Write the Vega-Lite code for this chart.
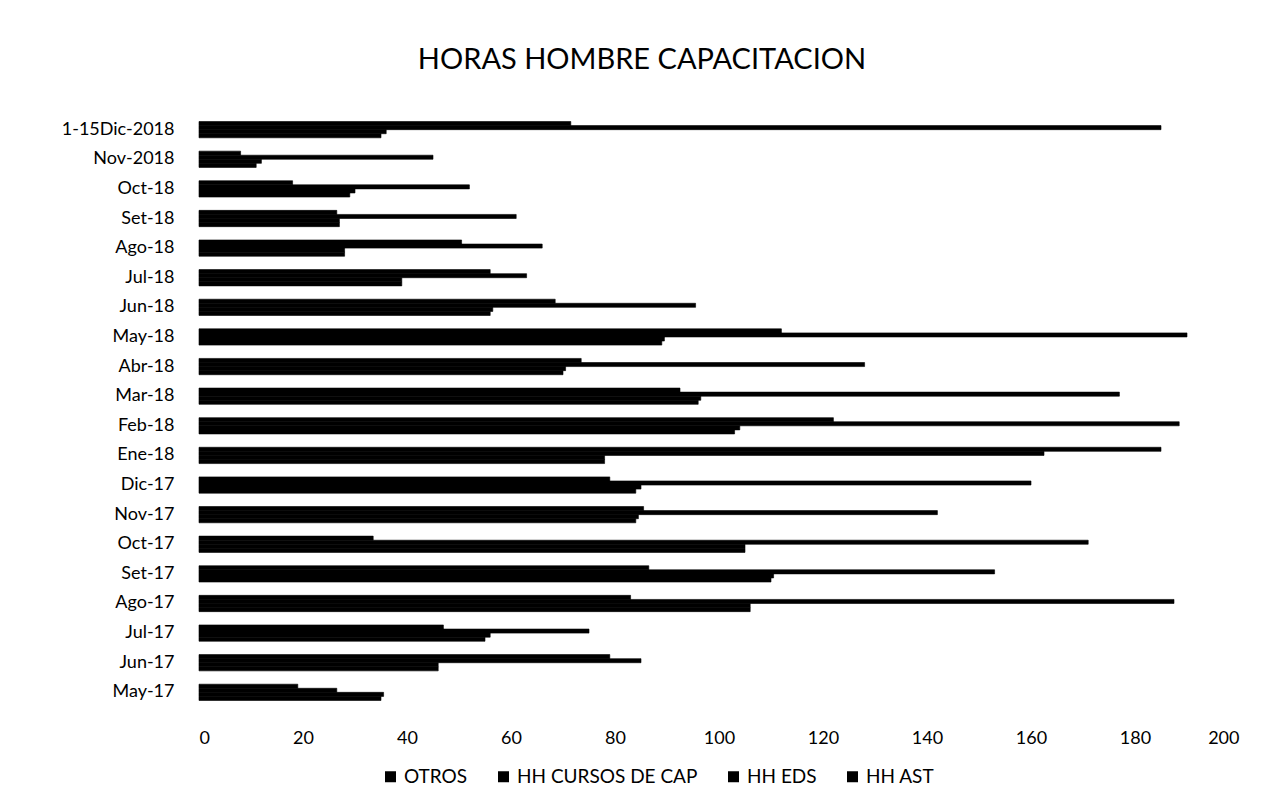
{
  "$schema": "https://vega.github.io/schema/vega-lite/v6.json",
  "width": 1040,
  "height": 592,
  "autosize": "none",
  "padding": {"left": 199, "top": 115, "right": 35, "bottom": 102},
  "background": "white",
  "title": {"text": "HORAS HOMBRE CAPACITACION", "font": "Lato", "fontSize": 29, "fontWeight": "normal", "color": "#000", "anchor": "middle", "frame": "group", "dx": -77, "offset": 40},
  "datasets": {
    "horas": [
      {"mes": "1-15Dic-2018", "serie": "HH AST", "valor": 71.5},
      {"mes": "1-15Dic-2018", "serie": "HH EDS", "valor": 185},
      {"mes": "1-15Dic-2018", "serie": "HH CURSOS DE CAP", "valor": 36},
      {"mes": "1-15Dic-2018", "serie": "OTROS", "valor": 35},
      {"mes": "Nov-2018", "serie": "HH AST", "valor": 8},
      {"mes": "Nov-2018", "serie": "HH EDS", "valor": 45},
      {"mes": "Nov-2018", "serie": "HH CURSOS DE CAP", "valor": 12},
      {"mes": "Nov-2018", "serie": "OTROS", "valor": 11},
      {"mes": "Oct-18", "serie": "HH AST", "valor": 18},
      {"mes": "Oct-18", "serie": "HH EDS", "valor": 52},
      {"mes": "Oct-18", "serie": "HH CURSOS DE CAP", "valor": 30},
      {"mes": "Oct-18", "serie": "OTROS", "valor": 29},
      {"mes": "Set-18", "serie": "HH AST", "valor": 26.5},
      {"mes": "Set-18", "serie": "HH EDS", "valor": 61},
      {"mes": "Set-18", "serie": "HH CURSOS DE CAP", "valor": 27},
      {"mes": "Set-18", "serie": "OTROS", "valor": 27},
      {"mes": "Ago-18", "serie": "HH AST", "valor": 50.5},
      {"mes": "Ago-18", "serie": "HH EDS", "valor": 66},
      {"mes": "Ago-18", "serie": "HH CURSOS DE CAP", "valor": 28},
      {"mes": "Ago-18", "serie": "OTROS", "valor": 28},
      {"mes": "Jul-18", "serie": "HH AST", "valor": 56},
      {"mes": "Jul-18", "serie": "HH EDS", "valor": 63},
      {"mes": "Jul-18", "serie": "HH CURSOS DE CAP", "valor": 39},
      {"mes": "Jul-18", "serie": "OTROS", "valor": 39},
      {"mes": "Jun-18", "serie": "HH AST", "valor": 68.5},
      {"mes": "Jun-18", "serie": "HH EDS", "valor": 95.5},
      {"mes": "Jun-18", "serie": "HH CURSOS DE CAP", "valor": 56.5},
      {"mes": "Jun-18", "serie": "OTROS", "valor": 56},
      {"mes": "May-18", "serie": "HH AST", "valor": 112},
      {"mes": "May-18", "serie": "HH EDS", "valor": 190},
      {"mes": "May-18", "serie": "HH CURSOS DE CAP", "valor": 89.5},
      {"mes": "May-18", "serie": "OTROS", "valor": 89},
      {"mes": "Abr-18", "serie": "HH AST", "valor": 73.5},
      {"mes": "Abr-18", "serie": "HH EDS", "valor": 128},
      {"mes": "Abr-18", "serie": "HH CURSOS DE CAP", "valor": 70.5},
      {"mes": "Abr-18", "serie": "OTROS", "valor": 70},
      {"mes": "Mar-18", "serie": "HH AST", "valor": 92.5},
      {"mes": "Mar-18", "serie": "HH EDS", "valor": 177},
      {"mes": "Mar-18", "serie": "HH CURSOS DE CAP", "valor": 96.5},
      {"mes": "Mar-18", "serie": "OTROS", "valor": 96},
      {"mes": "Feb-18", "serie": "HH AST", "valor": 122},
      {"mes": "Feb-18", "serie": "HH EDS", "valor": 188.5},
      {"mes": "Feb-18", "serie": "HH CURSOS DE CAP", "valor": 104},
      {"mes": "Feb-18", "serie": "OTROS", "valor": 103},
      {"mes": "Ene-18", "serie": "HH AST", "valor": 185},
      {"mes": "Ene-18", "serie": "HH EDS", "valor": 162.5},
      {"mes": "Ene-18", "serie": "HH CURSOS DE CAP", "valor": 78},
      {"mes": "Ene-18", "serie": "OTROS", "valor": 78},
      {"mes": "Dic-17", "serie": "HH AST", "valor": 79},
      {"mes": "Dic-17", "serie": "HH EDS", "valor": 160},
      {"mes": "Dic-17", "serie": "HH CURSOS DE CAP", "valor": 85},
      {"mes": "Dic-17", "serie": "OTROS", "valor": 84},
      {"mes": "Nov-17", "serie": "HH AST", "valor": 85.5},
      {"mes": "Nov-17", "serie": "HH EDS", "valor": 142},
      {"mes": "Nov-17", "serie": "HH CURSOS DE CAP", "valor": 84.5},
      {"mes": "Nov-17", "serie": "OTROS", "valor": 84},
      {"mes": "Oct-17", "serie": "HH AST", "valor": 33.5},
      {"mes": "Oct-17", "serie": "HH EDS", "valor": 171},
      {"mes": "Oct-17", "serie": "HH CURSOS DE CAP", "valor": 105},
      {"mes": "Oct-17", "serie": "OTROS", "valor": 105},
      {"mes": "Set-17", "serie": "HH AST", "valor": 86.5},
      {"mes": "Set-17", "serie": "HH EDS", "valor": 153},
      {"mes": "Set-17", "serie": "HH CURSOS DE CAP", "valor": 110.5},
      {"mes": "Set-17", "serie": "OTROS", "valor": 110},
      {"mes": "Ago-17", "serie": "HH AST", "valor": 83},
      {"mes": "Ago-17", "serie": "HH EDS", "valor": 187.5},
      {"mes": "Ago-17", "serie": "HH CURSOS DE CAP", "valor": 106},
      {"mes": "Ago-17", "serie": "OTROS", "valor": 106},
      {"mes": "Jul-17", "serie": "HH AST", "valor": 47},
      {"mes": "Jul-17", "serie": "HH EDS", "valor": 75},
      {"mes": "Jul-17", "serie": "HH CURSOS DE CAP", "valor": 56},
      {"mes": "Jul-17", "serie": "OTROS", "valor": 55},
      {"mes": "Jun-17", "serie": "HH AST", "valor": 79},
      {"mes": "Jun-17", "serie": "HH EDS", "valor": 85},
      {"mes": "Jun-17", "serie": "HH CURSOS DE CAP", "valor": 46},
      {"mes": "Jun-17", "serie": "OTROS", "valor": 46},
      {"mes": "May-17", "serie": "HH AST", "valor": 19},
      {"mes": "May-17", "serie": "HH EDS", "valor": 26.5},
      {"mes": "May-17", "serie": "HH CURSOS DE CAP", "valor": 35.5},
      {"mes": "May-17", "serie": "OTROS", "valor": 35}
    ]
  },
  "data": {"name": "horas"},
  "mark": {"type": "bar", "stroke": "#000000", "strokeWidth": 0.6},
  "encoding": {
    "y": {
      "field": "mes",
      "type": "nominal",
      "sort": ["1-15Dic-2018", "Nov-2018", "Oct-18", "Set-18", "Ago-18", "Jul-18", "Jun-18", "May-18", "Abr-18", "Mar-18", "Feb-18", "Ene-18", "Dic-17", "Nov-17", "Oct-17", "Set-17", "Ago-17", "Jul-17", "Jun-17", "May-17"],
      "title": null,
      "scale": {"paddingInner": 0.45, "paddingOuter": 0.22},
      "axis": {"domain": false, "ticks": false, "labelFont": "Lato", "labelFontSize": 18, "labelColor": "#000", "labelPadding": 25}
    },
    "yOffset": {
      "field": "serie",
      "type": "nominal",
      "sort": ["HH AST", "HH EDS", "HH CURSOS DE CAP", "OTROS"]
    },
    "x": {
      "field": "valor",
      "type": "quantitative",
      "title": null,
      "scale": {"domain": [0, 200]},
      "axis": {"values": [0, 20, 40, 60, 80, 100, 120, 140, 160, 180, 200], "domain": false, "ticks": false, "grid": false, "labelFont": "Lato", "labelFontSize": 18, "labelColor": "#000", "labelPadding": 22}
    },
    "color": {
      "field": "serie",
      "type": "nominal",
      "scale": {"domain": ["OTROS", "HH CURSOS DE CAP", "HH EDS", "HH AST"], "range": ["#000000", "#000000", "#000000", "#000000"]},
      "legend": {"title": null, "orient": "none", "legendX": 182, "legendY": 652, "direction": "horizontal", "symbolType": "square", "symbolSize": 121, "symbolStrokeWidth": 0, "labelFont": "Lato", "labelFontSize": 19, "labelColor": "#000", "labelOffset": 4, "labelLimit": 0, "columnPadding": 26}
    }
  },
  "config": {"view": {"stroke": null}}
}
